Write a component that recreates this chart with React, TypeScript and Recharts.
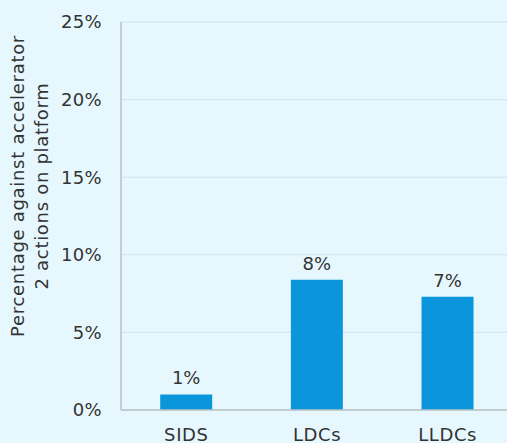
import React from "react";
import { BarChart, Bar, XAxis, YAxis, CartesianGrid, LabelList } from "recharts";

const categories = ["SIDS", "LDCs", "LLDCs"];
const values = [1.0, 8.4, 7.3];
const valueLabels = ["1%", "8%", "7%"];
const yTicks = [0, 5, 10, 15, 20, 25];
const yTitleLines = ["Percentage against accelerator", "2 actions on platform"];

const data = categories.map((c, i) => ({ name: c, value: values[i], label: valueLabels[i] }));

const FONT = "'DejaVu Sans', sans-serif";
const TEXT = "#333333";

const YTitle = () => (
  <text
    transform="translate(30,186) rotate(-90)"
    textAnchor="middle"
    fill={TEXT}
    fontFamily={FONT}
    fontSize={18}
    letterSpacing={0.7}
  >
    <tspan x={0} dy={-6}>{yTitleLines[0]}</tspan>
    <tspan x={0} dy={24}>{yTitleLines[1]}</tspan>
  </text>
);

export default function App() {
  return (
    <div style={{ position: "fixed", left: 0, top: 0, width: 507, height: 443, overflow: "hidden", background: "#e6f8fe" }}>
      <BarChart
        width={513}
        height={470}
        data={data}
        margin={{ top: 22, right: 0, bottom: 30, left: 0 }}
        barCategoryGap="30%"
        style={{ fontFamily: FONT }}
      >
        <CartesianGrid vertical={false} stroke="#cfe3ea" strokeWidth={1} />
        <XAxis
          dataKey="name"
          height={30}
          axisLine={{ stroke: "#b8c2c6", strokeWidth: 1.5 }}
          tickLine={false}
          tickSize={0}
          tickMargin={18}
          tick={{ fill: TEXT, fontSize: 18, fontFamily: FONT, letterSpacing: 0.6 }}
        />
        <YAxis
          width={121}
          domain={[0, 25]}
          ticks={yTicks}
          interval={0}
          tickFormatter={(v: number) => `${v}%`}
          axisLine={{ stroke: "#b8c2c6", strokeWidth: 1.5 }}
          tickLine={false}
          tickSize={0}
          tickMargin={19}
          tick={{ fill: TEXT, fontSize: 18, fontFamily: FONT, letterSpacing: 0.3 }}
          label={<YTitle />}
        />
        <Bar dataKey="value" fill="#0b96dc" isAnimationActive={false}>
          <LabelList dataKey="label" position="top" offset={10} fill={TEXT} fontSize={18} fontFamily={FONT} />
        </Bar>
      </BarChart>
    </div>
  );
}
